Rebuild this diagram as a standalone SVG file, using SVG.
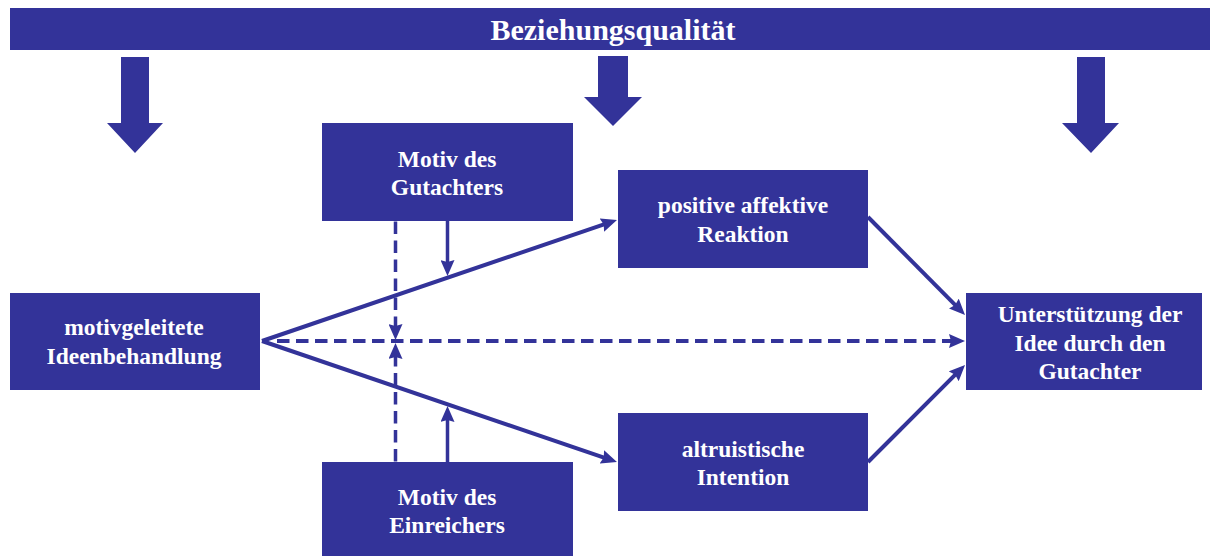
<svg xmlns="http://www.w3.org/2000/svg" width="1210" height="556" viewBox="0 0 1210 556">
  <defs>
    <style>
      .box { fill: #333399; }
      .lbl { fill: #ffffff; font-family: 'Liberation Serif', 'DejaVu Serif', serif; font-weight: 700; font-size: 23.5px; text-anchor: middle; }
      .title { font-size: 30px; }
      .link { fill: none; stroke: #333399; stroke-width: 4; }
      .thin { stroke-width: 3.5; }
      .dash { stroke-dasharray: 12.5 6.5; }
    </style>
    <marker id="head" markerUnits="userSpaceOnUse" markerWidth="16" markerHeight="14" refX="10" refY="7" orient="auto">
      <path d="M0,0 L16,7 L0,14 L2,7 z" fill="#333399"/>
    </marker>
  </defs>

  <rect width="1210" height="556" fill="#ffffff"/>

  <!-- relationship-quality banner with its three block arrows -->
  <g id="beziehungsqualitaet">
    <rect class="box" x="10" y="8" width="1200" height="42"/>
    <text class="lbl title" x="613" y="40">Beziehungsqualität</text>
    <polygon class="box" points="121,57 149,57 149,123 163,123 135,153 107,123 121,123"/>
    <polygon class="box" points="598,56 628,56 628,97 642,97 613,126 584,97 598,97"/>
    <polygon class="box" points="1077,57 1105,57 1105,123 1119,123 1091,153 1062,123 1077,123"/>
  </g>

  <!-- connectors -->
  <g id="connectors">
    <line class="link" x1="262" y1="341" x2="611.3" y2="221.9" marker-end="url(#head)"/>
    <line class="link" x1="262" y1="341" x2="611.3" y2="460.1" marker-end="url(#head)"/>
    <line class="link dash" x1="277" y1="341" x2="959" y2="341" marker-end="url(#head)"/>
    <line class="link" x1="868" y1="217" x2="960.8" y2="310.7" marker-end="url(#head)"/>
    <line class="link" x1="868" y1="462" x2="960.8" y2="369.2" marker-end="url(#head)"/>
    <line class="link thin dash" x1="395.5" y1="221.5" x2="395.5" y2="334" marker-end="url(#head)"/>
    <line class="link thin dash" x1="395.5" y1="461.5" x2="395.5" y2="349" marker-end="url(#head)"/>
    <line class="link thin" x1="447.5" y1="221" x2="447.5" y2="270" marker-end="url(#head)"/>
    <line class="link thin" x1="447.5" y1="462" x2="447.5" y2="412" marker-end="url(#head)"/>
  </g>

  <g id="ideenbehandlung">
    <rect class="box" x="10" y="293" width="250" height="97"/>
    <text class="lbl" x="134" y="335">motivgeleitete</text>
    <text class="lbl" x="134" y="364">Ideenbehandlung</text>
  </g>

  <g id="motiv-gutachter">
    <rect class="box" x="322" y="123" width="251" height="98"/>
    <text class="lbl" x="447" y="167">Motiv des</text>
    <text class="lbl" x="447" y="195">Gutachters</text>
  </g>

  <g id="motiv-einreicher">
    <rect class="box" x="322" y="462" width="251" height="94"/>
    <text class="lbl" x="447" y="505">Motiv des</text>
    <text class="lbl" x="447" y="533">Einreichers</text>
  </g>

  <g id="affektive-reaktion">
    <rect class="box" x="618" y="170" width="250" height="98"/>
    <text class="lbl" x="743" y="213">positive affektive</text>
    <text class="lbl" x="743" y="242">Reaktion</text>
  </g>

  <g id="altruistische-intention">
    <rect class="box" x="618" y="413" width="250" height="98"/>
    <text class="lbl" x="743" y="457">altruistische</text>
    <text class="lbl" x="743" y="485">Intention</text>
  </g>

  <g id="unterstuetzung">
    <rect class="box" x="966" y="293" width="236" height="97"/>
    <text class="lbl" x="1090" y="322">Unterstützung der</text>
    <text class="lbl" x="1090" y="351">Idee durch den</text>
    <text class="lbl" x="1090" y="379">Gutachter</text>
  </g>
</svg>
